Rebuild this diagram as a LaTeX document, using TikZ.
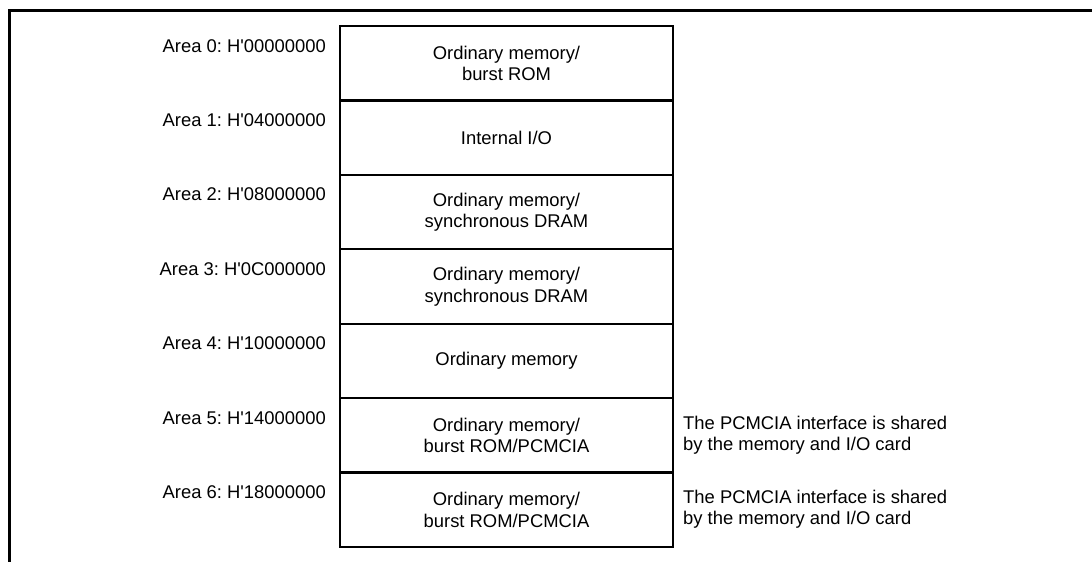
\documentclass[tikz,border=0pt]{standalone}
\usepackage{fontspec}
\setmainfont{Liberation Sans}
\frenchspacing
\newcommand{\ap}{\textquotesingle}
\begin{document}
\begin{tikzpicture}[x=1pt,y=-1pt,
  txt/.style={font=\fontsize{18.4}{21.5}\selectfont, inner sep=0pt},
  cell/.style={txt, draw, line width=2.2pt, minimum width=333pt, minimum height=74.43pt, align=center},
  addr/.style={txt, anchor=base east},
  note/.style={txt, anchor=base west, align=left},
  frameline/.style={line width=3pt}]
\useasboundingbox (0,0) rectangle (1092,562);
\coordinate (fb) at (9,562);
\coordinate (fc) at (9,10.5);
\coordinate (fr) at (1092,10.5);
\draw[frameline] (fb) -- (fc) -- (fr);
\node[cell] (c0) at (506.5,63.2) {Ordinary memory/\\burst ROM};
\node[cell] (c1) at (506.5,137.6) {Internal I/O};
\node[cell] (c2) at (506.5,212.1) {Ordinary memory/\\synchronous DRAM};
\node[cell] (c3) at (506.5,286.5) {Ordinary memory/\\synchronous DRAM};
\node[cell] (c4) at (506.5,360.9) {Ordinary memory};
\node[cell] (c5) at (506.5,435.4) {Ordinary memory/\\burst ROM/PCMCIA};
\node[cell] (c6) at (506.5,509.8) {Ordinary memory/\\burst ROM/PCMCIA};
\node[addr] (a0) at (326,52) {Area 0: H\ap00000000};
\node[addr] (a1) at (326,126.4) {Area 1: H\ap04000000};
\node[addr] (a2) at (326,200.9) {Area 2: H\ap08000000};
\node[addr] (a3) at (326,275.3) {Area 3: H\ap0C000000};
\node[addr] (a4) at (326,349.7) {Area 4: H\ap10000000};
\node[addr] (a5) at (326,424.2) {Area 5: H\ap14000000};
\node[addr] (a6) at (326,498.6) {Area 6: H\ap18000000};
\node[note] (n5) at (683,450.5) {The PCMCIA interface is shared\\by the memory and I/O card};
\node[note] (n6) at (683,524.5) {The PCMCIA interface is shared\\by the memory and I/O card};
\end{tikzpicture}
\end{document}
